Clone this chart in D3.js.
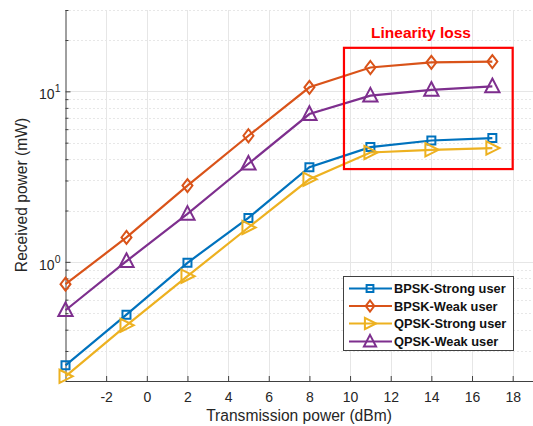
<!DOCTYPE html>
<html><head><meta charset="utf-8">
<script src="https://cdn.jsdelivr.net/npm/d3@7"></script>
<style>body{margin:0;background:#fff}svg{display:block}text{font-family:"Liberation Sans",Arial,sans-serif}</style>
</head><body><svg id="c" width="533" height="426"></svg>
<script>
const txPower = [-4, -1, 2, 5, 8, 11, 14, 17];
const bpskStrong = [0.247, 0.49, 0.987, 1.81, 3.59, 4.71, 5.15, 5.32];
const bpskWeak = [0.739, 1.39, 2.8, 5.49, 10.56, 13.8, 14.8, 14.95];
const qpskStrong = [0.213, 0.424, 0.824, 1.59, 3.05, 4.38, 4.54, 4.65];
const qpskWeak = [0.52, 1.01, 1.91, 3.76, 7.36, 9.43, 10.2, 10.7];
const seriesNames = ["BPSK-Strong user", "BPSK-Weak user", "QPSK-Strong user", "QPSK-Weak user"];
const seriesColors = ["#0072BD", "#D95319", "#EDB120", "#7E2F8E"];
const seriesMarkers = ["square", "diamond", "right", "up"];
const xTicks = [-2, 0, 2, 4, 6, 8, 10, 12, 14, 16, 18];
const xDomain = [-4, 19];
const yDomain = [0.2, 30];
const boxX = [9.7, 18], boxY = [3.5, 18];
const annotation = "Linearity loss";

const svg = d3.select("#c");
const L = 65.5, R = 533, T = 10, B = 381;
const x = d3.scaleLinear().domain(xDomain).range([L, R]);
const y = d3.scaleLog().domain(yDomain).range([B, T]);
const axisCol = "#404040";

// grid
const g = svg.append("g");
const minorY = [0.2,0.3,0.4,0.5,0.6,0.7,0.8,0.9,2,3,4,5,6,7,8,9,20,30];
g.selectAll(".my").data(minorY).join("line")
  .attr("x1", L).attr("x2", R).attr("y1", d=>Math.round(y(d))+0.5).attr("y2", d=>Math.round(y(d))+0.5)
  .attr("stroke", "#cfcfcf").attr("stroke-width", 1).attr("stroke-dasharray", "1,3");
g.selectAll(".My").data([1,10]).join("line")
  .attr("x1", L).attr("x2", R).attr("y1", d=>Math.round(y(d))+0.5).attr("y2", d=>Math.round(y(d))+0.5)
  .attr("stroke", "#e6e6e6").attr("stroke-width", 1);
g.selectAll(".gx").data(xTicks).join("line")
  .attr("y1", T).attr("y2", B).attr("x1", d=>Math.round(x(d))+0.5).attr("x2", d=>Math.round(x(d))+0.5)
  .attr("stroke", "#e6e6e6").attr("stroke-width", 1);

// axes
const xAxis = d3.axisBottom(x).tickValues(xTicks).tickSizeInner(-5).tickSizeOuter(0).tickPadding(11)
  .tickFormat(d=>String(d));
const xa = svg.append("g").attr("transform", `translate(0,${B})`).call(xAxis);
xa.select(".domain").attr("stroke", axisCol);
xa.selectAll(".tick line").attr("stroke", axisCol);
xa.selectAll("text").attr("fill", "#262626").style("font-size", "14px");

const yAxis = d3.axisLeft(y).tickValues(minorY.concat([1,10])).tickSizeInner(-3).tickSizeOuter(0).tickFormat(()=>"");
const ya = svg.append("g").attr("transform", `translate(${L},0)`).call(yAxis);
ya.select(".domain").attr("stroke", axisCol).attr("d", `M0.5,${T}V${B}`);
ya.selectAll(".tick line").attr("stroke", axisCol).attr("x2", d=> (d===1||d===10)?5:3);
[1,10].forEach((v,i)=>{
  const t = svg.append("text").attr("x", L-5).attr("y", y(v)+8).attr("text-anchor","end")
    .attr("fill", "#262626").style("font-size","14px");
  t.append("tspan").text("10");
  t.append("tspan").attr("dy", -7).style("font-size","10.5px").text(String(i));
});

svg.append("text").attr("x", 299).attr("y", 421).attr("text-anchor","middle")
  .attr("fill", "#262626").style("font-size","15.6px").text("Transmission power (dBm)");
svg.append("text").attr("transform", `translate(27,195) rotate(-90)`).attr("text-anchor","middle")
  .attr("fill", "#262626").style("font-size","15.6px").text("Received power (mW)");

// markers
function markerPath(type, s) {
  if (type==="square") return `M${-s},${-s}H${s}V${s}H${-s}Z`;
  if (type==="diamond") return `M0,${-s*1.3}L${s},0L0,${s*1.3}L${-s},0Z`;
  if (type==="right") return `M${-s},${-s*1.1}L${s*1.2},0L${-s},${s*1.1}Z`;
  if (type==="up") return `M0,${-s*1.2}L${s*1.1},${s*0.9}L${-s*1.1},${s*0.9}Z`;
}
const markerSize = {square:4, diamond:5, right:6, up:6.5};
const allSeries = [bpskStrong, bpskWeak, qpskStrong, qpskWeak];
const line = d3.line().x((d,i)=>x(txPower[i])).y(d=>y(d));
allSeries.forEach((vals, k)=>{
  svg.append("path").datum(vals).attr("d", line).attr("fill","none")
    .attr("stroke", seriesColors[k]).attr("stroke-width", 2.2);
  svg.selectAll(null).data(vals).join("path")
    .attr("transform", (d,i)=>`translate(${x(txPower[i])},${y(d)})`)
    .attr("d", markerPath(seriesMarkers[k], markerSize[seriesMarkers[k]]))
    .attr("fill","none").attr("stroke", seriesColors[k]).attr("stroke-width", 2);
});

// annotation box
svg.append("rect").attr("x", x(boxX[0])).attr("y", y(boxY[1]))
  .attr("width", x(boxX[1])-x(boxX[0])).attr("height", y(boxY[0])-y(boxY[1]))
  .attr("fill","none").attr("stroke","#ff0000").attr("stroke-width", 2.2);
svg.append("text").attr("x", 421).attr("y", 38).attr("text-anchor","middle")
  .attr("fill","#ff0000").style("font-size","15.5px").style("font-weight","bold").text(annotation);

// legend
const lg = svg.append("g");
lg.append("rect").attr("x", 343.5).attr("y", 276.5).attr("width", 170).attr("height", 74)
  .attr("fill","#fff").attr("stroke", axisCol).attr("stroke-width", 1);
const rowY = [288.5, 306, 323.5, 341.5];
seriesNames.forEach((n,k)=>{
  lg.append("line").attr("x1", 349).attr("x2", 392).attr("y1", rowY[k]).attr("y2", rowY[k])
    .attr("stroke", seriesColors[k]).attr("stroke-width", 2.2);
  lg.append("path").attr("transform", `translate(370,${rowY[k]})`)
    .attr("d", markerPath(seriesMarkers[k], markerSize[seriesMarkers[k]]*0.85))
    .attr("fill","none").attr("stroke", seriesColors[k]).attr("stroke-width", 2);
  lg.append("text").attr("x", 394).attr("y", rowY[k]+4.5).attr("fill", "#111")
    .style("font-size","12.8px").style("font-weight","bold").text(n);
});
</script></body></html>
